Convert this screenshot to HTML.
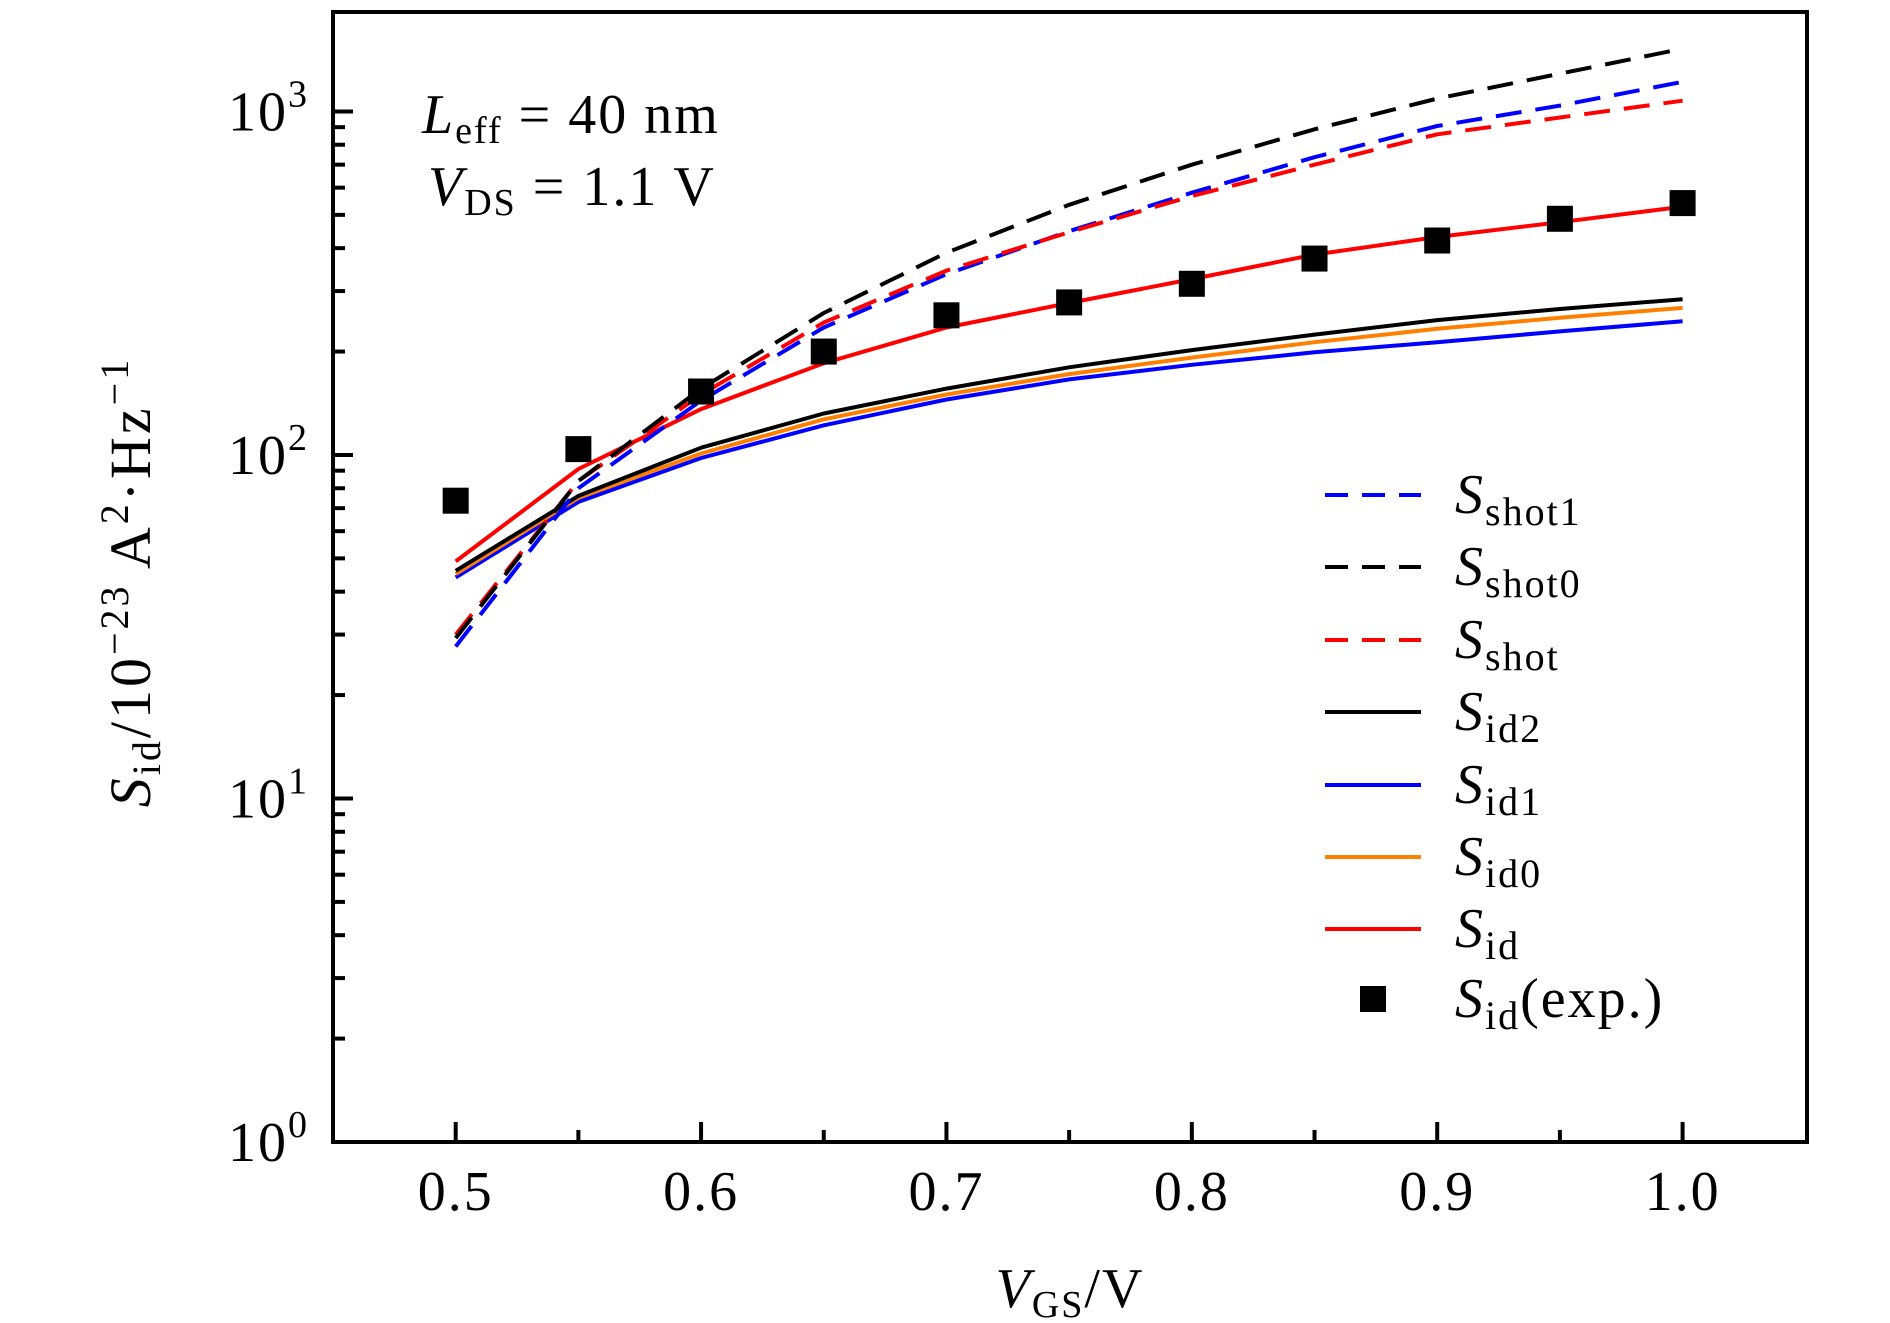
<!DOCTYPE html>
<html><head><meta charset="utf-8"><style>
html,body{margin:0;padding:0;background:#fff}
svg{display:block}
text{font-family:"Liberation Serif",serif;fill:#000}
</style></head><body>
<svg id="chart" width="1890" height="1323" viewBox="0 0 1890 1323" xmlns="http://www.w3.org/2000/svg">
<g id="plot"></g>
<g id="axes"></g>
<g id="legend"></g>
<text x="422" y="133" font-size="56" letter-spacing="2"><tspan font-style="italic">L</tspan><tspan font-size="38" dy="10">eff</tspan><tspan dy="-10"> = 40 nm</tspan></text>
<text x="428" y="205" font-size="56" letter-spacing="2"><tspan font-style="italic">V</tspan><tspan font-size="38" dy="10">DS</tspan><tspan dy="-10"> = 1.1 V</tspan></text>
<text x="1070" y="1307" font-size="56" text-anchor="middle" letter-spacing="2"><tspan font-style="italic">V</tspan><tspan font-size="38" dy="10">GS</tspan><tspan dy="-10">/V</tspan></text>
<text transform="translate(150,582) rotate(-90)" font-size="58" text-anchor="middle" letter-spacing="3"><tspan font-style="italic">S</tspan><tspan font-size="40" dy="10">id</tspan><tspan dy="-10">/10</tspan><tspan font-size="40" dy="-22">−23</tspan><tspan dy="22"> A</tspan><tspan font-size="40" dy="-22">2</tspan><tspan dy="22">·Hz</tspan><tspan font-size="40" dy="-22">−1</tspan></text>
</svg>
<script>
const xVals = [0.5,0.55,0.6,0.65,0.7,0.75,0.8,0.85,0.9,0.95,1.0];
const sShot1 = [27.7,80,144,235,336,448,580,736,907,1040,1220];
const sShot0 = [29.3,84,156,259,388,535,700,887,1090,1288,1523];
const sShot = [30,84,150,243,344,445,567,700,858,960,1075];
const sId2 = [46,76,105,132,156,180,202,224,247,266,284];
const sId1 = [44,73,98,122,145,166,183,199,213,229,245];
const sId0 = [45,75,101,127,150,172,192,213,233,251,268];
const sId = [49,91,136,185,235,277,325,383,431,476,528];
const sIdExp = [73.6,104,153,200,255,278,315,373,421,487,541];
const xTicks = [0.5,0.6,0.7,0.8,0.9,1.0];
const xTickLabels = ["0.5","0.6","0.7","0.8","0.9","1.0"];
const yDecades = [0,1,2,3];

const NS="http://www.w3.org/2000/svg";
const L=333,R=1807,T=12,B=1142;
const X0=0.45,X1=1.0507, LY0=0, LY1=3.2895;
function sx(v){return L+(v-X0)/(X1-X0)*(R-L);}
function sy(v){return B-(Math.log10(v)-LY0)/(LY1-LY0)*(B-T);}
function mk(tag,attrs,parent){const e=document.createElementNS(NS,tag);for(const k in attrs)e.setAttribute(k,attrs[k]);parent.appendChild(e);return e;}
const plot=document.getElementById('plot'),axes=document.getElementById('axes'),legend=document.getElementById('legend');

const series=[
 {name:'s-shot1',data:sShot1,color:'#0000ff',dash:'26 14',label:'shot1'},
 {name:'s-shot0',data:sShot0,color:'#000000',dash:'26 14',label:'shot0'},
 {name:'s-shot',data:sShot,color:'#ff0000',dash:'26 14',label:'shot'},
 {name:'s-id2',data:sId2,color:'#000000',dash:'',label:'id2'},
 {name:'s-id1',data:sId1,color:'#0000ff',dash:'',label:'id1'},
 {name:'s-id0',data:sId0,color:'#ff7f00',dash:'',label:'id0'},
 {name:'s-id',data:sId,color:'#ff0000',dash:'',label:'id'}
];
[4,5,3,6,0,2,1].forEach(i=>{
 const s=series[i];
 const d=s.data.map((v,j)=>(j?'L':'M')+sx(xVals[j]).toFixed(1)+' '+sy(v).toFixed(1)).join(' ');
 const p=mk('path',{d:d,fill:'none',stroke:s.color,'stroke-width':4,'stroke-linejoin':'round'},plot);
 if(s.dash)p.setAttribute('stroke-dasharray',s.dash);
 
 
});
sIdExp.forEach((v,j)=>{
 const r=mk('rect',{x:sx(xVals[j])-13,y:sy(v)-13,width:26,height:26,fill:'#000'},plot);
 
 
});
const fr=mk('rect',{x:L,y:T,width:R-L,height:B-T,fill:'none',stroke:'#000','stroke-width':4},axes);


xTicks.forEach((v,i)=>{
 const x=sx(v);
 const t=mk('line',{x1:x,x2:x,y1:B,y2:B-20,stroke:'#000','stroke-width':4},axes);
 
 
 const lb=mk('text',{x:x,y:B+68,'font-size':56,'text-anchor':'middle','letter-spacing':2},axes);
 lb.textContent=xTickLabels[i];
 
 
 if(i<xTicks.length-1){const xm=sx(v+0.05);
  const m=mk('line',{x1:xm,x2:xm,y1:B,y2:B-12,stroke:'#000','stroke-width':4},axes);
  
  }
});
yDecades.forEach(d=>{
 const y=sy(Math.pow(10,d));
 const t=mk('line',{x1:L,x2:L+20,y1:y,y2:y,stroke:'#000','stroke-width':4},axes);
 
 
 const lb=mk('text',{x:L-24,y:y+19,'font-size':56,'text-anchor':'end','letter-spacing':2},axes);
 lb.innerHTML='10<tspan font-size="38" dy="-24">'+d+'</tspan>';
 
 
 for(let k=2;k<=9;k++){const v=k*Math.pow(10,d);if(sy(v)<T)break;
  const m=mk('line',{x1:L,x2:L+12,y1:sy(v),y2:sy(v),stroke:'#000','stroke-width':4},axes);
  
  }
});
const rowY=[495,567,640,712,785,857,929,999];
series.forEach((s,i)=>{
 const y=rowY[i];
 const l=mk('line',{x1:1325,x2:1421,y1:y,y2:y,stroke:s.color,'stroke-width':4},legend);
 if(s.dash)l.setAttribute('stroke-dasharray','23 14');
 
 
 const t=mk('text',{x:1455,y:y+18,'font-size':56,'letter-spacing':2},legend);
 t.innerHTML='<tspan font-style="italic">S</tspan><tspan font-size="40" dy="12">'+s.label+'</tspan>';
 
 
});
const lm=mk('rect',{x:1360,y:rowY[7]-13,width:26,height:26,fill:'#000'},legend);


const lt=mk('text',{x:1455,y:rowY[7]+18,'font-size':56,'letter-spacing':2},legend);
lt.innerHTML='<tspan font-style="italic">S</tspan><tspan font-size="40" dy="12">id</tspan><tspan dy="-12">(exp.)</tspan>';


</script>
</body></html>
